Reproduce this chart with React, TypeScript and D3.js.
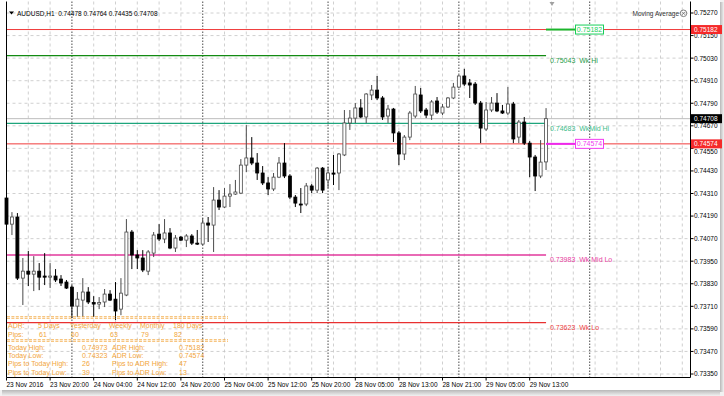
import { useEffect, useRef } from 'react';
import * as d3 from 'd3';

// AUDUSD H1 candles, 23 Nov 12:00 .. 29 Nov 16:00
const openPrices = [
  0.74286, 0.74147, 0.74185, 0.73860, 0.73897, 0.73881, 0.73897, 0.73871, 0.73865, 0.73871,
  0.73855, 0.73839, 0.73812, 0.73711, 0.73743, 0.73786, 0.73730, 0.73722, 0.73733, 0.73775,
  0.73748, 0.73695, 0.73770, 0.74105, 0.73983, 0.73967, 0.73897, 0.73993, 0.74094, 0.74068,
  0.74100, 0.74020, 0.74078, 0.74062, 0.74084, 0.74046, 0.74041, 0.74153, 0.74142, 0.74275,
  0.74238, 0.74296, 0.74307, 0.74312, 0.74461, 0.74499, 0.74472, 0.74419, 0.74366, 0.74334,
  0.74397, 0.74472, 0.74403, 0.74291, 0.74254, 0.74254, 0.74350, 0.74328, 0.74445, 0.74382,
  0.74419, 0.74419, 0.74515, 0.74685, 0.74711, 0.74765, 0.74717, 0.74834, 0.74860, 0.74818,
  0.74722, 0.74759, 0.74632, 0.74520, 0.74610, 0.74722, 0.74834, 0.74754, 0.74727, 0.74802,
  0.74738, 0.74770, 0.74818, 0.74876, 0.74935, 0.74898, 0.74892, 0.74791, 0.74653, 0.74754,
  0.74791, 0.74749, 0.74738, 0.74786, 0.74610, 0.74690, 0.74578, 0.74504, 0.74403, 0.74478,
];
const highPrices = [
  0.74328, 0.74211, 0.74206, 0.73967, 0.74004, 0.73977, 0.73940, 0.73993, 0.73940, 0.73908,
  0.73876, 0.73850, 0.73823, 0.73786, 0.73860, 0.73812, 0.73764, 0.73759, 0.73802, 0.73796,
  0.73839, 0.73860, 0.74174, 0.74116, 0.74009, 0.74009, 0.74009, 0.74105, 0.74147, 0.74174,
  0.74126, 0.74089, 0.74084, 0.74094, 0.74094, 0.74116, 0.74179, 0.74185, 0.74344, 0.74328,
  0.74339, 0.74360, 0.74382, 0.74493, 0.74674, 0.74610, 0.74525, 0.74456, 0.74397, 0.74419,
  0.74504, 0.74578, 0.74413, 0.74302, 0.74339, 0.74366, 0.74360, 0.74451, 0.74451, 0.74451,
  0.74515, 0.74525, 0.74754, 0.74754, 0.74791, 0.74812, 0.74844, 0.74887, 0.74935, 0.74828,
  0.74781, 0.74765, 0.74642, 0.74621, 0.74749, 0.74882, 0.74871, 0.74765, 0.74807, 0.74823,
  0.74786, 0.74823, 0.74898, 0.74940, 0.74973, 0.74919, 0.74903, 0.74802, 0.74797, 0.74823,
  0.74844, 0.74781, 0.74876, 0.74797, 0.74701, 0.74717, 0.74589, 0.74515, 0.74594, 0.74764,
];
const lowPrices = [
  0.74126, 0.74089, 0.73850, 0.73717, 0.73818, 0.73791, 0.73796, 0.73823, 0.73807, 0.73839,
  0.73818, 0.73802, 0.73647, 0.73653, 0.73653, 0.73722, 0.73653, 0.73695, 0.73706, 0.73738,
  0.73637, 0.73663, 0.73764, 0.73908, 0.73908, 0.73892, 0.73876, 0.73972, 0.74057, 0.74046,
  0.74014, 0.73999, 0.74057, 0.74025, 0.74036, 0.74036, 0.74036, 0.74052, 0.73999, 0.74222,
  0.74233, 0.74238, 0.74302, 0.74307, 0.74424, 0.74461, 0.74382, 0.74355, 0.74302, 0.74323,
  0.74392, 0.74392, 0.74280, 0.74238, 0.74206, 0.74243, 0.74312, 0.74312, 0.74312, 0.74339,
  0.74355, 0.74328, 0.74509, 0.74648, 0.74685, 0.74711, 0.74685, 0.74807, 0.74807, 0.74701,
  0.74685, 0.74584, 0.74461, 0.74488, 0.74594, 0.74711, 0.74738, 0.74711, 0.74701, 0.74733,
  0.74727, 0.74765, 0.74812, 0.74871, 0.74882, 0.74818, 0.74781, 0.74578, 0.74642, 0.74743,
  0.74743, 0.74733, 0.74727, 0.74578, 0.74578, 0.74568, 0.74397, 0.74323, 0.74392, 0.74435,
];
const closePrices = [
  0.74147, 0.74185, 0.73860, 0.73897, 0.73881, 0.73897, 0.73865, 0.73865, 0.73871, 0.73850,
  0.73834, 0.73807, 0.73711, 0.73748, 0.73786, 0.73733, 0.73722, 0.73730, 0.73775, 0.73743,
  0.73685, 0.73780, 0.74105, 0.73983, 0.73967, 0.73903, 0.73999, 0.74089, 0.74068, 0.74100,
  0.74020, 0.74073, 0.74062, 0.74084, 0.74046, 0.74041, 0.74153, 0.74142, 0.74275, 0.74238,
  0.74296, 0.74307, 0.74318, 0.74461, 0.74499, 0.74472, 0.74419, 0.74366, 0.74334, 0.74397,
  0.74472, 0.74403, 0.74291, 0.74259, 0.74249, 0.74350, 0.74328, 0.74445, 0.74328, 0.74419,
  0.74413, 0.74520, 0.74685, 0.74711, 0.74765, 0.74717, 0.74839, 0.74860, 0.74818, 0.74717,
  0.74759, 0.74632, 0.74520, 0.74610, 0.74738, 0.74839, 0.74749, 0.74727, 0.74797, 0.74743,
  0.74770, 0.74818, 0.74876, 0.74935, 0.74892, 0.74887, 0.74791, 0.74658, 0.74754, 0.74791,
  0.74749, 0.74738, 0.74786, 0.74600, 0.74690, 0.74578, 0.74504, 0.74403, 0.74477, 0.74708,
];

// one label every 8 bars
const timeLabels = [
  '23 Nov 2016', '23 Nov 20:00', '24 Nov 04:00', '24 Nov 12:00', '24 Nov 20:00',
  '25 Nov 04:00', '25 Nov 12:00', '25 Nov 20:00', '28 Nov 05:00', '28 Nov 13:00',
  '28 Nov 21:00', '29 Nov 05:00', '29 Nov 13:00',
];
// bar index of each day start (incl. the empty future day)
const dayStarts = [12, 36, 59, 83, 107];
const priceTicks = d3.range(0, 17).map(k => 0.75270 - k * 0.0012);

const levelNames = ['Wk Hi', 'WkMid Hi', 'Wk Mid Lo', 'Wk Lo'];
const levelPrices = [0.75043, 0.74683, 0.73983, 0.73623];

const adrHigh = 0.75182;
const adrLow = 0.74574;
const bidPrice = 0.74708;

const adrPeriods = ['5 Days', 'Yesterday', 'Weekly', 'Monthly', '180 Days'];
const adrPips = [61, 60, 63, 79, 82];
const todayRowsLeft = ['Today High:', 'Today Low:', 'Pips to Today High:', 'Pips to Today Low:'];
const todayValues = ['0.74973', '0.74323', '26', '39'];
const adrRowsLeft = ['ADR High:', 'ADR Low:', 'Pips to ADR High:', 'Pips to ADR Low:'];
const adrValues = ['0.75182', '0.74574', '47', '13'];

const FONT = '"Liberation Sans", Arial, sans-serif';

export default function App() {
  const svgRef = useRef<SVGSVGElement>(null);

  useEffect(() => {
    document.body.style.margin = '0';
    const svg = d3.select(svgRef.current);
    svg.selectAll('*').remove();

    const W = 724, H = 396;
    const left = 6.5, right = 690.5, top = 1.5, bottom = 377.5;

    const x = d3.scaleLinear().domain([0, 99]).range([6.5, 6.5 + 99 * 5.45]);
    const y = d3.scaleLinear().domain([0.73350, 0.75270]).range([374, 13]);

    // window shadow
    const defs = svg.append('defs');
    const gr = defs.append('linearGradient').attr('id', 'shR').attr('x1', '0%').attr('x2', '100%');
    gr.append('stop').attr('offset', '0%').attr('stop-color', '#b8b8b8');
    gr.append('stop').attr('offset', '100%').attr('stop-color', '#f2f2f2');
    const gb = defs.append('linearGradient').attr('id', 'shB').attr('x1', '0%').attr('x2', '0%').attr('y1', '0%').attr('y2', '100%');
    gb.append('stop').attr('offset', '0%').attr('stop-color', '#b8b8b8');
    gb.append('stop').attr('offset', '100%').attr('stop-color', '#f2f2f2');

    svg.append('rect').attr('width', W).attr('height', H).attr('fill', '#f2f2f2');
    svg.append('rect').attr('width', 720).attr('height', 390).attr('fill', '#fff');
    svg.append('rect').attr('x', 720).attr('y', 2).attr('width', 4).attr('height', 390).attr('fill', 'url(#shR)');
    svg.append('rect').attr('x', 2).attr('y', 390).attr('width', 718).attr('height', 6).attr('fill', 'url(#shB)');

    const g = svg.append('g');

    // grid
    g.selectAll('.hgrid').data(priceTicks).enter().append('line')
      .attr('x1', left).attr('x2', right)
      .attr('y1', d => y(d)).attr('y2', d => y(d))
      .attr('stroke', '#c4c4c4').attr('stroke-dasharray', '3,3').attr('stroke-width', 0.8);

    const gridBars = d3.range(4, 125, 4).filter(i => !dayStarts.includes(i));
    g.selectAll('.vgrid').data(gridBars).enter().append('line')
      .attr('x1', d => x(d)).attr('x2', d => x(d))
      .attr('y1', top).attr('y2', bottom)
      .attr('stroke', '#c4c4c4').attr('stroke-dasharray', '3,3').attr('stroke-width', 0.8);

    g.selectAll('.dsep').data(dayStarts).enter().append('line')
      .attr('x1', d => x(d)).attr('x2', d => x(d))
      .attr('y1', top).attr('y2', bottom)
      .attr('stroke', '#6a6a6a').attr('stroke-dasharray', '1.5,1.5').attr('stroke-width', 1.2);

    // ADR lines across the chart
    [adrHigh, adrLow].forEach(p => {
      g.append('line').attr('x1', left).attr('x2', right).attr('y1', y(p)).attr('y2', y(p))
        .attr('stroke', '#f03a3a').attr('stroke-width', 1);
    });
    // bid line
    g.append('line').attr('x1', left).attr('x2', right).attr('y1', y(bidPrice)).attr('y2', y(bidPrice))
      .attr('stroke', '#bdbdbd').attr('stroke-width', 1);

    // weekly levels
    const levelColors = ['#128a12', '#1ea57c', '#e2399c', '#e83030'];
    const labelColors = ['#1f9c4a', '#3cbd8a', '#e63c9e', '#ec4141'];
    const lastX = x(99);
    levelPrices.forEach((p, i) => {
      g.append('line').attr('x1', left).attr('x2', lastX).attr('y1', y(p)).attr('y2', y(p))
        .attr('stroke', levelColors[i]).attr('stroke-width', 1.3);
      g.append('text').attr('x', 550).attr('y', y(p) + 7.5)
        .style('font-family', FONT).style('font-size', '7px').style('white-space', 'pre')
        .attr('fill', labelColors[i])
        .text(`${p.toFixed(5)}  ${levelNames[i]}`);
    });

    // candles
    const bars = d3.range(openPrices.length).map(i => ({
      i, o: openPrices[i], h: highPrices[i], l: lowPrices[i], c: closePrices[i],
    }));
    const cg = g.append('g');
    bars.forEach(b => {
      const up = b.c >= b.o;
      const cx = x(b.i);
      const col = up ? '#4a4a4a' : '#000';
      cg.append('line').attr('x1', cx).attr('x2', cx).attr('y1', y(b.h)).attr('y2', y(b.l))
        .attr('stroke', col).attr('stroke-width', 1);
      const yt = y(Math.max(b.o, b.c));
      const yb = y(Math.min(b.o, b.c));
      cg.append('rect').attr('x', cx - 1.5).attr('y', yt).attr('width', 3)
        .attr('height', Math.max(1, yb - yt))
        .attr('fill', up ? '#fff' : '#000').attr('stroke', col).attr('stroke-width', 0.8);
    });

    // ADR labels with stubs
    const stub = (p: number, col: string, boxCol: string) => {
      g.append('line').attr('x1', 546).attr('x2', 575).attr('y1', y(p)).attr('y2', y(p))
        .attr('stroke', col).attr('stroke-width', 2);
      g.append('rect').attr('x', 575.5).attr('y', y(p) - 4.5).attr('width', 28).attr('height', 9)
        .attr('fill', '#fff').attr('stroke', boxCol).attr('stroke-width', 1);
      g.append('text').attr('x', 589.5).attr('y', y(p) + 2.6).attr('text-anchor', 'middle')
        .style('font-family', FONT).style('font-size', '7px').attr('fill', boxCol)
        .text(p.toFixed(5));
    };
    stub(adrHigh, '#1cb52c', '#19cf5a');
    stub(adrLow, '#ee28ee', '#f23cf2');

    // frame
    g.append('path')
      .attr('d', `M${left},${top}V${bottom}H${right}V${top}`)
      .attr('fill', 'none').attr('stroke', '#000').attr('stroke-width', 1);

    // right axis
    const boxPrices = [adrHigh, bidPrice, adrLow];
    priceTicks.forEach(p => {
      g.append('line').attr('x1', right).attr('x2', right + 3).attr('y1', y(p)).attr('y2', y(p))
        .attr('stroke', '#000');
      // nudge a tick label down when a price box sits right on top of it
      const near = boxPrices.some(bp => y(p) - y(bp) > 0 && y(p) - y(bp) < 5);
      g.append('text').attr('x', 694).attr('y', y(p) + 2.4 + (near ? 3.2 : 0))
        .style('font-family', FONT).style('font-size', '6.5px').attr('fill', '#000')
        .text(p.toFixed(5));
    });
    const axisBox = (p: number, fill: string) => {
      g.append('rect').attr('x', 691).attr('y', y(p) - 4.5).attr('width', 31).attr('height', 9).attr('fill', fill);
      g.append('text').attr('x', 694).attr('y', y(p) + 2.4)
        .style('font-family', FONT).style('font-size', '6.5px').attr('fill', '#fff')
        .text(p.toFixed(5));
    };
    axisBox(adrHigh, '#f52a2a');
    axisBox(bidPrice, '#000');
    axisBox(adrLow, '#f52a2a');

    // time axis
    timeLabels.forEach((t, k) => {
      const tx = x(k * 8);
      g.append('line').attr('x1', tx).attr('x2', tx).attr('y1', bottom).attr('y2', bottom + 3).attr('stroke', '#000');
      g.append('text').attr('x', tx).attr('y', 386.5)
        .style('font-family', FONT).style('font-size', '6.5px').attr('fill', '#000')
        .text(t);
    });

    // title
    g.append('path').attr('d', 'M9,11.5h5l-2.5,3z').attr('fill', '#000');
    g.append('text').attr('x', 17).attr('y', 15.5)
      .style('font-family', FONT).style('font-size', '6.5px').style('white-space', 'pre').attr('fill', '#000')
      .text(`AUDUSD,H1  ${openPrices[99].toFixed(5)} ${highPrices[99].toFixed(5)} ${lowPrices[99].toFixed(5)} ${closePrices[99].toFixed(5)}`);

    // indicator name
    g.append('text').attr('x', 679).attr('y', 15.5).attr('text-anchor', 'end')
      .style('font-family', FONT).style('font-size', '6.5px').attr('fill', '#333')
      .text('Moving Average');
    g.append('circle').attr('cx', 683.5).attr('cy', 13.3).attr('r', 3.3)
      .attr('fill', 'none').attr('stroke', '#666').attr('stroke-width', 0.8);
    g.append('path').attr('d', 'M682,11.8l3,3M685,11.8l-3,3').attr('stroke', '#666').attr('stroke-width', 0.8);

    // chart shift marker
    g.append('path').attr('d', 'M549.5,2h5l-2.5,4z').attr('fill', '#a0a0a0');

    // ADR info panel
    const orange = '#f2a53a';
    const pg = g.append('g').style('font-family', FONT).style('font-size', '7px').attr('fill', orange);
    const dashRow = (yy: number) => {
      [yy - 0.8, yy + 0.8].forEach(v => {
        pg.append('line').attr('x1', 7).attr('x2', 228).attr('y1', v).attr('y2', v)
          .attr('stroke', orange).attr('stroke-width', 0.8).attr('stroke-dasharray', '3,1.4');
      });
    };
    dashRow(317.5);
    dashRow(340.5);
    const cols = [38, 70, 109, 140, 173];
    pg.append('text').attr('x', 8).attr('y', 327.5).text('ADR:');
    pg.append('text').attr('x', 8).attr('y', 336.5).text('Pips:');
    adrPeriods.forEach((t, i) => {
      pg.append('text').attr('x', cols[i]).attr('y', 327.5).text(t);
      pg.append('text').attr('x', cols[i] + 1).attr('y', 336.5).text(String(adrPips[i]));
    });
    const rowY = [350, 358, 366.3, 374.6];
    todayRowsLeft.forEach((t, i) => {
      pg.append('text').attr('x', 8).attr('y', rowY[i]).text(t);
      pg.append('text').attr('x', 82).attr('y', rowY[i]).text(todayValues[i]);
      pg.append('text').attr('x', 112).attr('y', rowY[i]).text(adrRowsLeft[i]);
      pg.append('text').attr('x', 179).attr('y', rowY[i]).text(adrValues[i]);
    });
  }, []);

  return (
    <div style={{ position: 'absolute', left: 0, top: 0 }}>
      <svg ref={svgRef} width={724} height={396} style={{ display: 'block' }} />
    </div>
  );
}
